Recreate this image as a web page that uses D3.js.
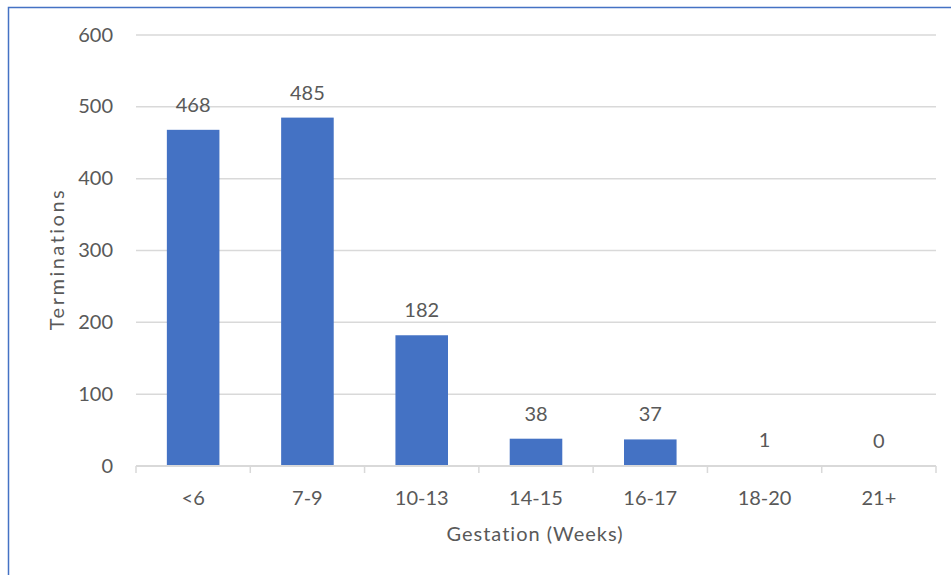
<!DOCTYPE html>
<html>
<head>
<meta charset="utf-8">
<script src="https://cdn.jsdelivr.net/npm/d3@7"></script>
<style>
  html, body { margin: 0; padding: 0; background: #fff; }
  svg { display: block; }
  text { font-family: Lato, "Open Sans", "Liberation Sans", sans-serif; fill: #595959; }
</style>
</head>
<body>
<svg id="chart" width="951" height="575"></svg>
<script>
// Terminations by gestation period
const categories = ["<6", "7-9", "10-13", "14-15", "16-17", "18-20", "21+"];
const terminations = [468, 485, 182, 38, 37, 1, 0];
const yTicks = [0, 100, 200, 300, 400, 500, 600];

const svg = d3.select("#chart");
const W = 951, H = 575;
const plot = { left: 136, right: 936, top: 35, bottom: 466 };
const fontSize = "20px";

// outer chart frame
svg.append("rect")
  .attr("x", 8.5).attr("y", 7.5)
  .attr("width", W + 20).attr("height", H + 20)
  .attr("fill", "#fff")
  .attr("stroke", "#4472c4").attr("stroke-width", 1.5);

const x = d3.scaleBand()
  .domain(categories)
  .range([plot.left, plot.right])
  .paddingInner(0.54).paddingOuter(0.27);

const y = d3.scaleLinear()
  .domain([0, 600])
  .range([plot.bottom, plot.top]);

// horizontal gridlines
svg.append("g")
  .selectAll("line")
  .data(yTicks.filter(d => d > 0))
  .join("line")
  .attr("x1", plot.left).attr("x2", plot.right)
  .attr("y1", d => y(d)).attr("y2", d => y(d))
  .attr("stroke", "#d9d9d9").attr("stroke-width", 1.5);

// y axis labels
const yAxis = d3.axisLeft(y).tickValues(yTicks).tickSize(0).tickPadding(23);
const gy = svg.append("g")
  .attr("transform", `translate(${plot.left},0)`)
  .call(yAxis);
gy.select(".domain").remove();
gy.selectAll("text")
  .style("font-size", fontSize)
  .attr("fill", "#595959")
  .attr("dy", "0.3em");

// bars
svg.append("g")
  .selectAll("rect")
  .data(categories)
  .join("rect")
  .attr("x", d => x(d))
  .attr("width", x.bandwidth())
  .attr("y", (d, i) => y(terminations[i]))
  .attr("height", (d, i) => y(0) - y(terminations[i]))
  .attr("fill", "#4472c4");

// x axis with category separators
const xEdges = d3.scaleLinear().domain([0, categories.length]).range([plot.left, plot.right]);
const gx = svg.append("g");
gx.append("line")
  .attr("x1", plot.left).attr("x2", plot.right)
  .attr("y1", plot.bottom).attr("y2", plot.bottom)
  .attr("stroke", "#d9d9d9").attr("stroke-width", 2);
gx.selectAll("line.sep")
  .data(d3.range(categories.length + 1))
  .join("line")
  .attr("class", "sep")
  .attr("x1", d => xEdges(d)).attr("x2", d => xEdges(d))
  .attr("y1", plot.bottom).attr("y2", plot.bottom + 7)
  .attr("stroke", "#d9d9d9").attr("stroke-width", 1.5);
gx.selectAll("text")
  .data(categories)
  .join("text")
  .attr("x", d => x(d) + x.bandwidth() / 2)
  .attr("y", plot.bottom + 39)
  .attr("text-anchor", "middle")
  .style("font-size", fontSize)
  .text(d => d);

// value labels
svg.append("g")
  .selectAll("text")
  .data(categories)
  .join("text")
  .attr("x", d => x(d) + x.bandwidth() / 2)
  .attr("y", (d, i) => y(terminations[i]) - 18)
  .attr("text-anchor", "middle")
  .style("font-size", fontSize)
  .text((d, i) => terminations[i]);

// axis titles
svg.append("text")
  .attr("x", 535).attr("y", 541)
  .attr("text-anchor", "middle")
  .style("font-size", fontSize)
  .style("letter-spacing", "1px")
  .text("Gestation (Weeks)");

svg.append("text")
  .attr("transform", "translate(64,259) rotate(-90)")
  .attr("text-anchor", "middle")
  .style("font-size", fontSize)
  .style("letter-spacing", "2.5px")
  .text("Terminations");
</script>
</body>
</html>
